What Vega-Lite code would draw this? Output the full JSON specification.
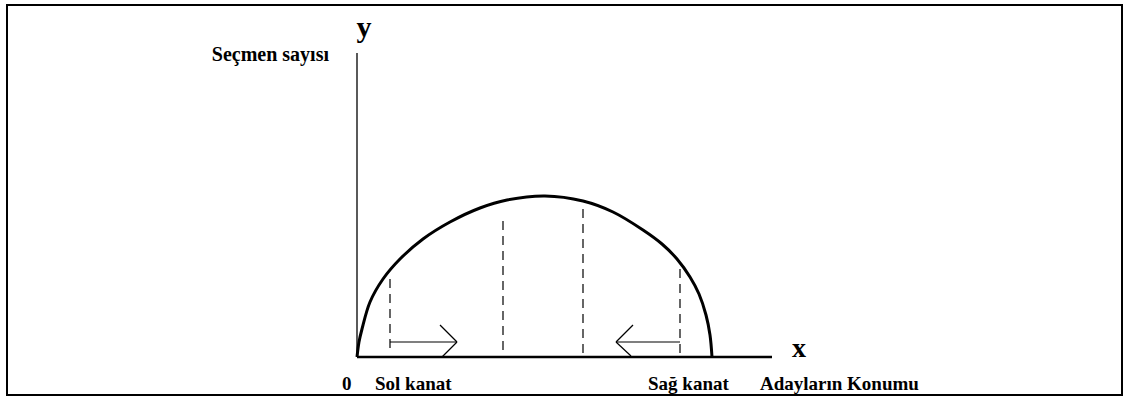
{
  "$schema": "https://vega.github.io/schema/vega-lite/v6.json",
  "width": 1129,
  "height": 397,
  "padding": 0,
  "autosize": {"type": "fit", "contains": "padding"},
  "background": "white",
  "config": {"view": {"stroke": null}},
  "encoding": {
    "x": {"field": "x", "type": "quantitative", "scale": {"domain": [-357, 772], "nice": false, "zero": false}, "axis": null},
    "y": {"field": "y", "type": "quantitative", "scale": {"domain": [-40, 357], "nice": false, "zero": false}, "axis": null}
  },
  "layer": [
    {
      "data": {"values": [{"x": -350, "y": 352, "x2": 765, "y2": -38}]},
      "mark": {"type": "rect", "fill": null, "stroke": "black", "strokeWidth": 2},
      "encoding": {"x2": {"field": "x2"}, "y2": {"field": "y2"}}
    },
    {
      "data": {"values": [
        {"x": 0, "y": 0, "x2": 0, "y2": 304, "w": "thin"},
        {"x": 0, "y": 0, "x2": 415, "y2": 0, "w": "thick"}
      ]},
      "mark": {"type": "rule", "color": "black"},
      "encoding": {
        "x2": {"field": "x2"}, "y2": {"field": "y2"},
        "strokeWidth": {"field": "w", "type": "nominal", "scale": {"domain": ["thin", "thick"], "range": [1.3, 2.6]}, "legend": null}
      }
    },
    {
      "data": {"values": [
        {"x": 33, "y": 9, "y2": 79},
        {"x": 146, "y": 7, "y2": 140},
        {"x": 226, "y": 4, "y2": 152},
        {"x": 323, "y": 4, "y2": 92}
      ]},
      "mark": {"type": "rule", "color": "black", "strokeWidth": 1.2, "strokeDash": [9, 6]},
      "encoding": {"y2": {"field": "y2"}}
    },
    {
      "data": {"values": [
        {"x": 33, "y": 15, "x2": 100, "y2": 15},
        {"x": 100, "y": 15, "x2": 83, "y2": 32},
        {"x": 100, "y": 15, "x2": 85, "y2": 0},
        {"x": 323, "y": 15, "x2": 259, "y2": 15},
        {"x": 259, "y": 15, "x2": 276, "y2": 32},
        {"x": 259, "y": 15, "x2": 274, "y2": 1}
      ]},
      "mark": {"type": "rule", "color": "black", "strokeWidth": 1.2},
      "encoding": {"x2": {"field": "x2"}, "y2": {"field": "y2"}}
    },
    {
      "data": {"values": [
        {"x": 0, "y": 0},
        {"x": 2, "y": 15},
        {"x": 5, "y": 28},
        {"x": 13, "y": 55},
        {"x": 26, "y": 78},
        {"x": 43, "y": 98},
        {"x": 66, "y": 118},
        {"x": 93, "y": 135},
        {"x": 123, "y": 149},
        {"x": 150, "y": 157},
        {"x": 188, "y": 161},
        {"x": 226, "y": 156},
        {"x": 256, "y": 145},
        {"x": 286, "y": 127},
        {"x": 305, "y": 113},
        {"x": 320, "y": 98},
        {"x": 333, "y": 80},
        {"x": 342, "y": 63},
        {"x": 349, "y": 42},
        {"x": 353, "y": 22},
        {"x": 355, "y": 0}
      ]},
      "mark": {"type": "line", "color": "black", "strokeWidth": 3, "interpolate": "catmull-rom"}
    },
    {
      "data": {"values": [
        {"x": 7, "y": 320, "t": "y"}
      ]},
      "mark": {"type": "text", "font": "Liberation Serif", "fontWeight": "bold", "fontSize": 30, "align": "center", "baseline": "alphabetic", "color": "black"},
      "encoding": {"text": {"field": "t"}}
    },
    {
      "data": {"values": [
        {"x": 435, "y": 0, "t": "x"}
      ]},
      "mark": {"type": "text", "font": "Liberation Serif", "fontWeight": "bold", "fontSize": 28, "align": "left", "baseline": "alphabetic", "color": "black"},
      "encoding": {"text": {"field": "t"}}
    },
    {
      "data": {"values": [
        {"x": -28, "y": 296, "t": "Seçmen sayısı"}
      ]},
      "mark": {"type": "text", "font": "Liberation Serif", "fontWeight": "bold", "fontSize": 20, "align": "right", "baseline": "alphabetic", "color": "black"},
      "encoding": {"text": {"field": "t"}}
    },
    {
      "data": {"values": [
        {"x": -15, "y": -33, "t": "0"},
        {"x": 18, "y": -33, "t": "Sol kanat"},
        {"x": 291, "y": -33, "t": "Sağ kanat"},
        {"x": 403, "y": -33, "t": "Adayların Konumu"}
      ]},
      "mark": {"type": "text", "font": "Liberation Serif", "fontWeight": "bold", "fontSize": 19, "align": "left", "baseline": "alphabetic", "color": "black"},
      "encoding": {"text": {"field": "t"}}
    }
  ]
}
